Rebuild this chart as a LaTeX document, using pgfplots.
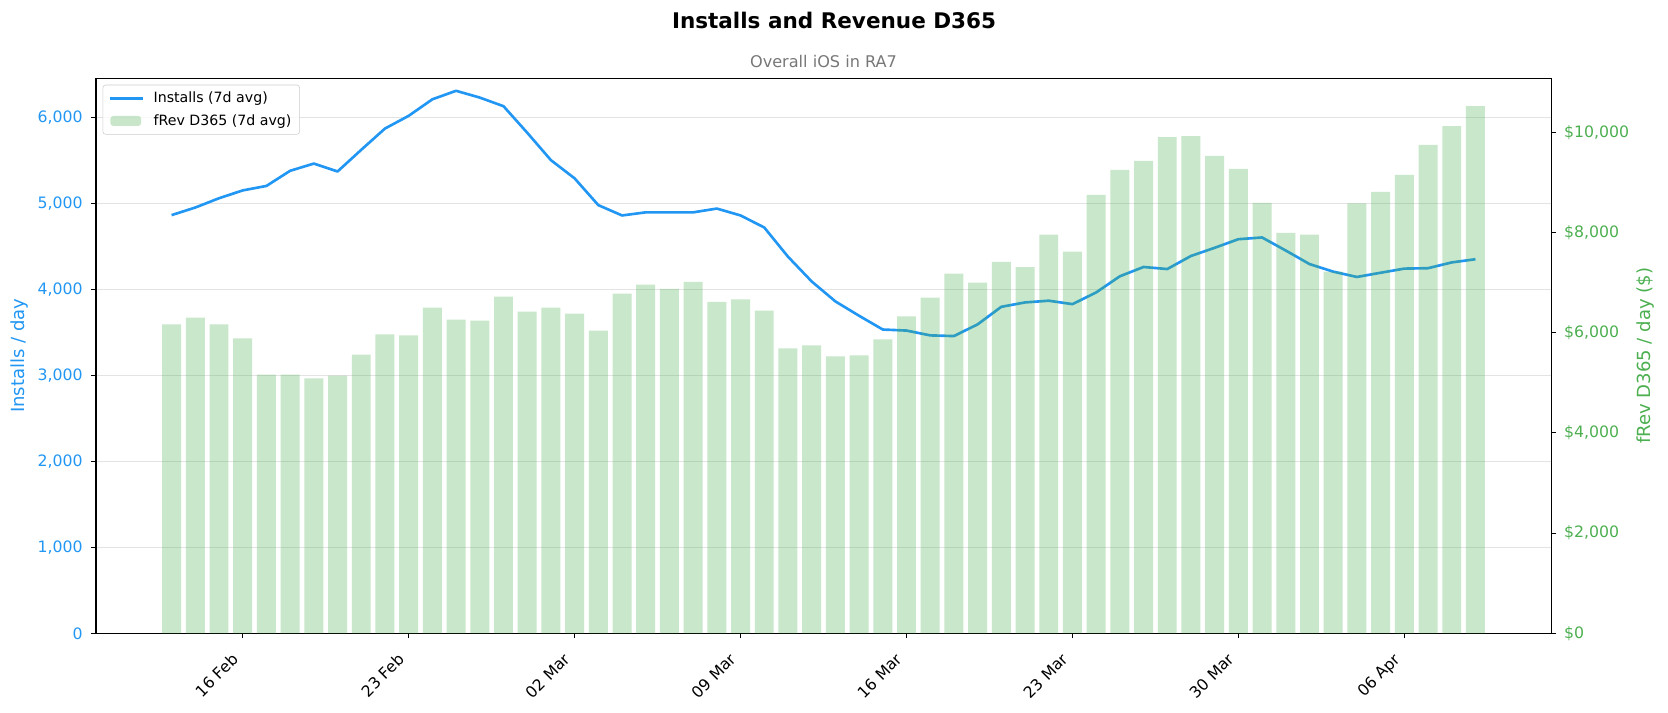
\documentclass[border=0pt]{standalone}
\usepackage{fontspec}
\setmainfont{DejaVu Sans}
\usepackage{pgfplots}
\usepackage{pgfplotstable}
\pgfplotsset{compat=1.18}
\definecolor{cblue}{HTML}{2196F3}
\definecolor{cgreen}{HTML}{4CAF50}
\definecolor{subgray}{HTML}{777777}

\pgfplotstableread{
idx inst rev
0 4862 6165
1 4950 6300
2 5058 6165
3 5149 5885
4 5201 5165
5 5377 5165
6 5461 5090
7 5369 5145
8 5621 5560
9 5868 5965
10 6016 5945
11 6208 6500
12 6307 6260
13 6228 6240
14 6128 6720
15 5820 6420
16 5501 6500
17 5289 6380
18 4978 6040
19 4858 6780
20 4894 6960
21 4894 6875
22 4894 7015
23 4938 6615
24 4858 6665
25 4718 6440
26 4379 5685
27 4091 5745
28 3859 5525
29 3692 5545
30 3532 5865
31 3520 6325
32 3464 6700
33 3456 7180
34 3592 7000
35 3796 7415
36 3847 7310
37 3867 7955
38 3827 7615
39 3963 8750
40 4151 9250
41 4259 9430
42 4235 9900
43 4387 9920
44 4482 9525
45 4582 9270
46 4602 8590
47 4450 7990
48 4293 7955
49 4205 7220
50 4143 8580
51 4192 8810
52 4240 9150
53 4245 9745
54 4312 10120
55 4349 10520
}\datatable

\pgfplotsset{
  common/.style={
    scale only axis,
    width=1047.6pt, height=399.8pt,
    xmin=-3.19, xmax=58.19,
    enlargelimits=false,
    axis line style={black, line width=0.8pt},
    tick style={black, line width=0.8pt},
    major tick length=3.6pt,
    tick align=outside,
    ticklabel style={font=\fontsize{11.3}{13}\selectfont},
    /pgf/number format/assume math mode=true,
    /pgf/number format/1000 sep={,},
    scaled y ticks=false,
  },
  mylineleg/.style={legend image code/.code={\draw[cblue, line width=1.9pt] (0pt,0pt) -- (24pt,0pt);}},
  mybarleg/.style={legend image code/.code={\fill[cgreen, fill opacity=0.3] (0.7pt,-3.6pt) rectangle (22.7pt,3.6pt);}},
}

\begin{document}
\begin{tikzpicture}
\begin{axis}[common,
  name=ax,
  ymin=0, ymax=6455,
  tick pos=left,
  xtick={3,10,17,24,31,38,45,52},
  xticklabels={16 Feb,23 Feb,02 Mar,09 Mar,16 Mar,23 Mar,30 Mar,06 Apr},
  xticklabel style={xshift=-8.3pt, yshift=-5pt, rotate=45, anchor=north east, text=black},
  ytick={0,1000,2000,3000,4000,5000,6000},
  yticklabel style={text=cblue, xshift=-2.5pt},
  ymajorgrids,
  major grid style={color=black!11, line width=0.6pt},
  ylabel={Installs / day},
  every axis y label/.style={at={(axis description cs:-0.0527,0.5)}, rotate=90, anchor=center, font=\fontsize{13}{15}\selectfont, text=cblue},
]
\addplot[color=cblue, line width=1.9pt, line join=round] table[x=idx, y=inst] {\datatable};
\end{axis}

\begin{axis}[common,
  ymin=0, ymax=11080,
  axis y line*=right,
  axis x line=none,
  xtick=\empty,
  ytick={0,2000,4000,6000,8000,10000},
  yticklabel={\$\pgfmathprintnumber{\tick}},
  yticklabel style={text=cgreen, xshift=2.3pt},
  ylabel={fRev D365 / day (\$)},
  every axis y label/.style={at={(axis description cs:1.0646,0.5)}, rotate=90, anchor=center, font=\fontsize{13}{15}\selectfont, text=cgreen},
  legend cell align=left,
  legend style={font=\fontsize{10.2}{12}\selectfont, draw=black!20, fill=white, fill opacity=0.8, text opacity=1, rounded corners=2pt,
    at={(axis description cs:0,1)}, anchor=north west, xshift=4.8pt, yshift=-4.8pt,
    inner xsep=3.8pt, inner ysep=3pt, row sep=3pt,
    /tikz/every odd column/.append style={column sep=4.8pt}},
]
\addlegendimage{mylineleg}
\addlegendentry{Installs (7d avg)}
\addplot[ybar, bar width=0.8, bar shift=0pt, fill=cgreen, fill opacity=0.3, draw=none, mybarleg]
  table[x=idx, y=rev] {\datatable};
\addlegendentry{fRev D365 (7d avg)}
\end{axis}

\node[font=\fontsize{15.5}{18}\selectfont\bfseries, anchor=center] at ([shift={(531.4pt,441.6pt)}]ax.south west) {Installs and Revenue D365};
\node[font=\fontsize{11.6}{14}\selectfont, text=subgray, anchor=center] at ([yshift=11.7pt]ax.north) {Overall iOS in RA7};

\pgfresetboundingbox
\path[use as bounding box] ([shift={(-69.1pt,-56.7pt)}]ax.south west) rectangle ([shift={(84.2pt,56.2pt)}]ax.north east);
\end{tikzpicture}
\end{document}
